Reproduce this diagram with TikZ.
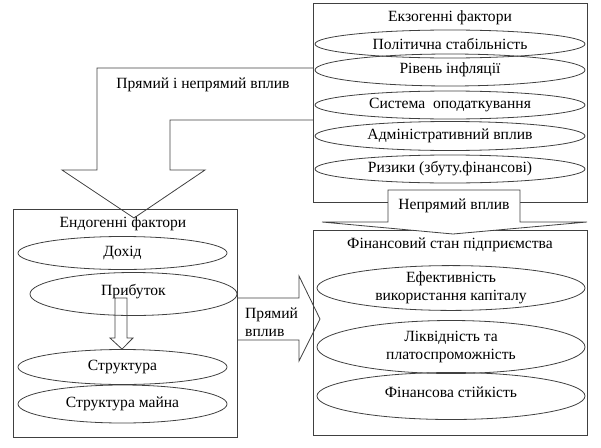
\documentclass[tikz,border=0pt]{standalone}
\usepackage{fontspec}
\setmainfont{Liberation Serif}
\newfontfamily\tnr{Liberation Serif}
\usetikzlibrary{shapes.geometric}
\begin{document}
\begin{tikzpicture}[x=1pt,y=-1pt,
  font=\tnr\fontsize{15.6}{17.5}\selectfont,
  lc/.style={line width=0.8pt, draw=black!75},
  frame/.style={lc, anchor=north west, inner sep=0pt},
  oval/.style={ellipse, lc, inner sep=0pt, align=center},
  lbl/.style={inner sep=1pt, align=center},
  blockarrow/.style={lc, line join=miter}]
\useasboundingbox (0,0) rectangle (601,447);
% boxes
\node[frame, minimum width=274pt, minimum height=199pt] (exo) at (313,3) {};
\node[frame, minimum width=224pt, minimum height=228pt] (endo) at (13,209) {};
\node[frame, minimum width=274pt, minimum height=205pt] (fin) at (313,230) {};
% titles
\node[lbl] (exot) at (450,18) {Екзогенні фактори};
\node[lbl] (endot) at (123,224) {Ендогенні фактори};
\node[lbl] (fint) at (450,245) {Фінансовий стан підприємства};
% exogenous ellipses
\node[oval, minimum width=270pt, minimum height=28pt] (e1) at (450,44) {Політична стабільність};
\node[oval, minimum width=270pt, minimum height=32pt] (e2) at (450,70) {Рівень інфляції};
\node[oval, minimum width=270pt, minimum height=28pt] (e3) at (450,105) {Система\ \ оподаткування};
\node[oval, minimum width=270pt, minimum height=29pt] (e4) at (450,136) {Адміністративний вплив};
\node[oval, minimum width=270pt, minimum height=28pt] (e5) at (450,169) {Ризики (збуту.фінансові)};
% endogenous ellipses
\node[oval, minimum width=209pt, minimum height=33pt] (n1) at (122.5,253) {Дохід};
\node[oval, minimum width=207pt, minimum height=43pt] (n2) at (133.5,294) {};
\node[lbl] (n2t) at (133.5,292) {Прибуток};
\node[oval, minimum width=209pt, minimum height=35pt] (n3) at (122.5,367) {Структура};
\node[oval, minimum width=209pt, minimum height=38pt] (n4) at (122.5,404) {Структура майна};
% financial ellipses
\node[oval, minimum width=268pt, minimum height=43pt] (f1) at (451,288) {Ефективність\\використання капіталу};
\node[oval, minimum width=268pt, minimum height=53pt] (f2) at (451,347) {Ліквідність та\\платоспроможність};
\node[oval, minimum width=268pt, minimum height=47pt] (f3) at (451,396) {};
\node[lbl] (f3t) at (451,392) {Фінансова стійкість};
% big bent arrow: exogenous -> endogenous
\draw[blockarrow] (exo.west |- 0,68) -- (97,68) -- (97,170) -- (62,170) -- (134,218)
  -- (205,170) -- (170,170) -- (170,120) -- (exo.west |- 0,120);
\node[lbl] (pnv) at (203,85) {Прямий і непрямий вплив};
% right arrow: endogenous -> financial
\draw[blockarrow] (endo.east |- 0,298) -- (299,298) -- (299,276) -- (320,319)
  -- (299,361) -- (299,340) -- (endo.east |- 0,340);
\node[lbl, anchor=west, align=left, font=\tnr\fontsize{15.6}{18.5}\selectfont] (pv) at (244,322) {Прямий\\вплив};
% small arrow inside endogenous box: n2 -> n3
\draw[blockarrow] (115,298) -- (127,298) -- (127,338) -- (133,338) -- (n3.north -| 122,0)
  -- (110,338) -- (115,338) -- cycle;
% indirect arrow: exogenous -> financial
\draw[blockarrow, fill=white] (388,190) -- (520,190) -- (520,222) -- (587,222) -- (453,234)
  -- (322,222) -- (388,222) -- cycle;
\node[lbl] (nv) at (454,206) {Непрямий вплив};
\end{tikzpicture}
\end{document}
